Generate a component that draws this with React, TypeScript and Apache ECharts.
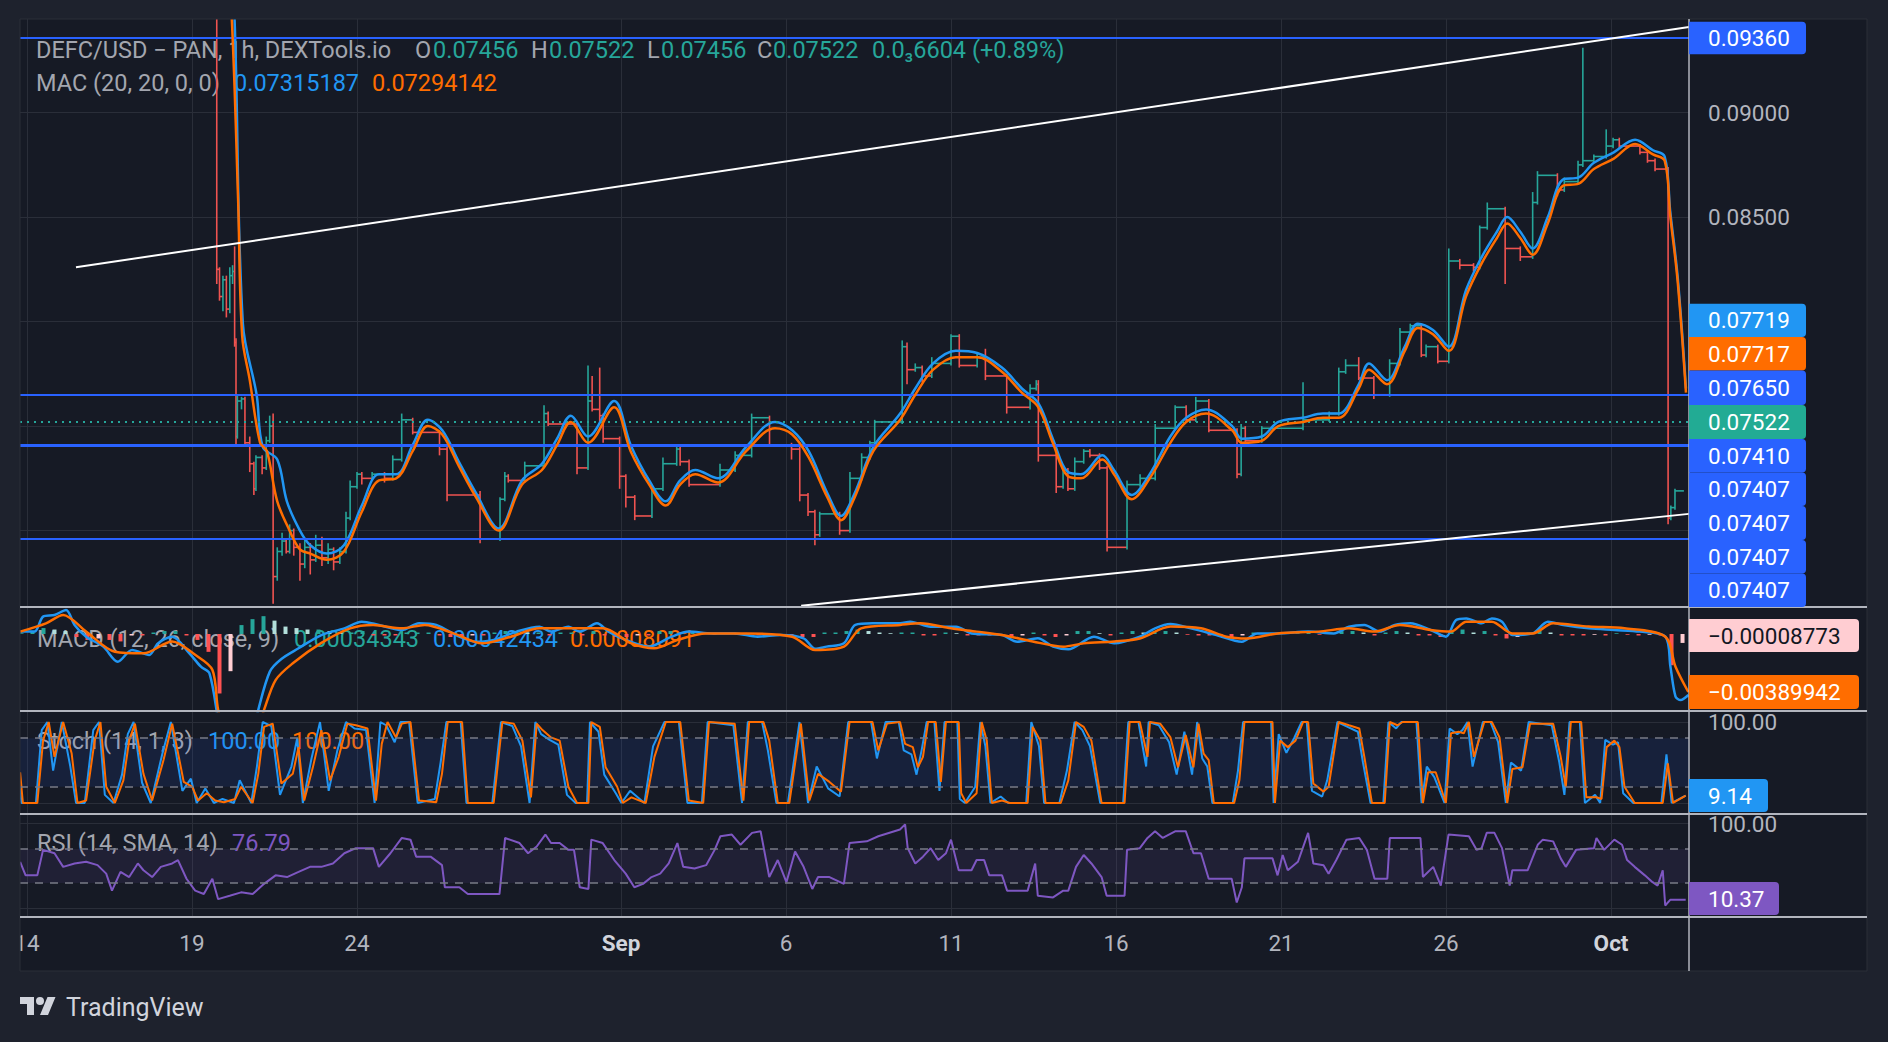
import React, { useEffect, useRef } from "react";
import * as echarts from "echarts";

// ---------- data ----------
// x values are hours since 14 Aug 00:00
const timeTickHours = [0, 120, 240, 432, 552, 672, 792, 912, 1032, 1152];
const timeTickLabels = ["14", "19", "24", "Sep", "6", "11", "16", "21", "26", "Oct"];
const monthLabels = ["Sep", "Oct"];
const xMin = -5.09;
const xMax = 1208.7;

const priceTicks = [0.07, 0.075, 0.08, 0.085, 0.09];
const priceLabelTicks = [0.085, 0.09];
const priceMin = 0.066344;
const priceMax = 0.09448;

// [hour, open, high, low, close]
const candles = [
  [-6, 0.105, 0.106, 0.104, 0.105],
  [138, 0.105, 0.106, 0.0818, 0.0825],
  [140, 0.0825, 0.0826, 0.081, 0.0812],
  [142.5, 0.0812, 0.0822, 0.0805, 0.082],
  [145, 0.082, 0.0822, 0.0802, 0.0806],
  [147.5, 0.0806, 0.0826, 0.0804, 0.0822],
  [149.5, 0.0822, 0.0827, 0.0818, 0.0824],
  [151, 0.0824, 0.0836, 0.0788, 0.079],
  [152, 0.079, 0.0792, 0.0741, 0.0745],
  [153, 0.0745, 0.0765, 0.0744, 0.0762],
  [156, 0.0762, 0.0764, 0.0758, 0.0763],
  [158.5, 0.0763, 0.0764, 0.074, 0.0742],
  [162, 0.0742, 0.0745, 0.0728, 0.0732],
  [165, 0.0732, 0.0733, 0.0717, 0.072],
  [166.5, 0.072, 0.0736, 0.0719, 0.0735],
  [171, 0.0735, 0.0736, 0.0727, 0.073],
  [174, 0.073, 0.0745, 0.0729, 0.0743],
  [176.5, 0.0743, 0.0755, 0.0742, 0.075],
  [179, 0.075, 0.0756, 0.0665, 0.0678],
  [182, 0.0678, 0.0692, 0.0676, 0.069],
  [185.5, 0.069, 0.0699, 0.0688, 0.0695],
  [188.5, 0.0695, 0.0696, 0.0689, 0.069],
  [191, 0.069, 0.0703, 0.0689, 0.07],
  [194, 0.07, 0.0701, 0.0688, 0.0692],
  [198.5, 0.0692, 0.0694, 0.0676, 0.0684],
  [202, 0.0684, 0.0696, 0.0682, 0.0692],
  [206, 0.0692, 0.0694, 0.0679, 0.0686],
  [210, 0.0686, 0.0698, 0.0685, 0.0693],
  [214.5, 0.0693, 0.0697, 0.0683, 0.0687],
  [219, 0.0687, 0.0694, 0.0684, 0.0691],
  [223, 0.0691, 0.0692, 0.0681, 0.0685],
  [227.5, 0.0685, 0.0692, 0.0684, 0.069],
  [232, 0.069, 0.0709, 0.0689, 0.0706],
  [235, 0.0706, 0.0724, 0.0705, 0.0721],
  [240, 0.0721, 0.0728, 0.072, 0.0727],
  [243.5, 0.0727, 0.0728, 0.0722, 0.0725],
  [251, 0.0725, 0.0728, 0.0724, 0.0727],
  [260, 0.0727, 0.0728, 0.0723, 0.0725],
  [266, 0.0725, 0.0736, 0.0724, 0.0734],
  [272.5, 0.0734, 0.0756, 0.0733, 0.0753],
  [280.5, 0.0753, 0.0754, 0.0746, 0.0747],
  [300, 0.0747, 0.0748, 0.0736, 0.0739],
  [305.5, 0.0739, 0.074, 0.0714, 0.0717],
  [329.5, 0.0717, 0.0719, 0.0694, 0.0696],
  [344, 0.0696, 0.0716, 0.0695, 0.0715],
  [347.5, 0.0715, 0.0728, 0.0714, 0.0726],
  [350, 0.0726, 0.0727, 0.0723, 0.0724],
  [362, 0.0724, 0.0733, 0.0723, 0.0731],
  [376, 0.0731, 0.076, 0.073, 0.0756],
  [379, 0.0756, 0.0757, 0.075, 0.0751],
  [400, 0.0751, 0.0752, 0.0727, 0.073],
  [408, 0.073, 0.0779, 0.0729, 0.0762],
  [411, 0.0762, 0.0774, 0.0757, 0.0758],
  [416.5, 0.0758, 0.0778, 0.0752, 0.0755],
  [419, 0.0755, 0.0756, 0.0742, 0.0744],
  [431, 0.0744, 0.0745, 0.072, 0.0726],
  [435.5, 0.0726, 0.0727, 0.0711, 0.0716],
  [442, 0.0716, 0.0717, 0.0705, 0.0707],
  [454.5, 0.0707, 0.0722, 0.0706, 0.072],
  [462.5, 0.072, 0.0735, 0.0719, 0.0732],
  [472.5, 0.0732, 0.074, 0.0731, 0.0739],
  [475, 0.0739, 0.074, 0.0731, 0.0733],
  [481.5, 0.0733, 0.0734, 0.0721, 0.0722],
  [504, 0.0722, 0.0732, 0.0721, 0.0729],
  [515, 0.0729, 0.0738, 0.0728, 0.0736],
  [527, 0.0736, 0.0756, 0.0735, 0.0754],
  [540, 0.0754, 0.0755, 0.074, 0.0741],
  [556, 0.0741, 0.0742, 0.0734, 0.0739],
  [562, 0.0739, 0.074, 0.0714, 0.0717],
  [568, 0.0717, 0.0718, 0.0707, 0.0709],
  [573, 0.0709, 0.071, 0.0693, 0.0698],
  [576.5, 0.0698, 0.0709, 0.0697, 0.0708],
  [591, 0.0708, 0.0709, 0.0698, 0.07],
  [598.5, 0.07, 0.0728, 0.0699, 0.0725],
  [607, 0.0725, 0.0737, 0.0724, 0.0735],
  [613, 0.0735, 0.0743, 0.0734, 0.0742],
  [616.5, 0.0742, 0.0753, 0.0741, 0.0752],
  [636.5, 0.0752, 0.0791, 0.0751, 0.0788],
  [640, 0.0788, 0.079, 0.077, 0.0777],
  [646, 0.0777, 0.078, 0.0776, 0.0778],
  [651, 0.0778, 0.0779, 0.0771, 0.0774],
  [658, 0.0774, 0.0783, 0.0773, 0.078],
  [672, 0.078, 0.0794, 0.0779, 0.0793],
  [678, 0.0793, 0.0794, 0.0778, 0.0779],
  [691, 0.0779, 0.0785, 0.0778, 0.0783],
  [697, 0.0783, 0.0787, 0.0772, 0.0774],
  [712.5, 0.0774, 0.0775, 0.0756, 0.0759],
  [729.5, 0.0759, 0.077, 0.0758, 0.0768],
  [734, 0.0768, 0.0772, 0.0767, 0.077],
  [735.5, 0.077, 0.0772, 0.0733, 0.0736],
  [748.5, 0.0736, 0.0737, 0.0718, 0.0721],
  [753.5, 0.0721, 0.0731, 0.072, 0.0729],
  [757, 0.0729, 0.073, 0.0719, 0.072],
  [762, 0.072, 0.0735, 0.0719, 0.0733],
  [768.5, 0.0733, 0.0739, 0.0732, 0.0738],
  [773, 0.0738, 0.0739, 0.0735, 0.0736],
  [780, 0.0736, 0.0737, 0.0729, 0.073],
  [785.5, 0.073, 0.0731, 0.069, 0.0692],
  [800, 0.0692, 0.0724, 0.0691, 0.0722],
  [809.5, 0.0722, 0.0727, 0.0721, 0.0725],
  [820.5, 0.0725, 0.0751, 0.0724, 0.0749],
  [835, 0.0749, 0.076, 0.0748, 0.0759],
  [843, 0.0759, 0.076, 0.0752, 0.0753],
  [850, 0.0753, 0.0764, 0.0752, 0.0762],
  [859.5, 0.0762, 0.0763, 0.0747, 0.0748],
  [880, 0.0748, 0.0749, 0.0725, 0.0727],
  [883, 0.0727, 0.0751, 0.0726, 0.0749],
  [886, 0.0749, 0.075, 0.0742, 0.0743],
  [898, 0.0743, 0.075, 0.0742, 0.0749],
  [928, 0.0749, 0.0771, 0.0748, 0.0753],
  [947, 0.0753, 0.0757, 0.0752, 0.0756],
  [954, 0.0756, 0.0778, 0.0755, 0.0776],
  [959, 0.0776, 0.0782, 0.0775, 0.0779],
  [968.5, 0.0779, 0.0783, 0.0772, 0.0773],
  [979.5, 0.0773, 0.0774, 0.0763, 0.0765],
  [991, 0.0765, 0.0782, 0.0764, 0.078],
  [998.5, 0.078, 0.0797, 0.0779, 0.0795],
  [1006, 0.0795, 0.0799, 0.0794, 0.0798],
  [1014, 0.0798, 0.0799, 0.0783, 0.0784],
  [1017.5, 0.0784, 0.0789, 0.0783, 0.0788],
  [1026, 0.0788, 0.0789, 0.078, 0.0781],
  [1034, 0.0781, 0.0835, 0.078, 0.0829],
  [1042, 0.0829, 0.083, 0.0825, 0.0827],
  [1052, 0.0827, 0.0828, 0.0824, 0.0826],
  [1056.5, 0.0826, 0.0846, 0.0825, 0.0845],
  [1062, 0.0845, 0.0857, 0.0844, 0.0854],
  [1075, 0.0854, 0.0855, 0.0818, 0.0835],
  [1086, 0.0835, 0.0836, 0.0829, 0.0831],
  [1095, 0.0831, 0.0862, 0.083, 0.0857],
  [1098.5, 0.0857, 0.0872, 0.0856, 0.087],
  [1113, 0.087, 0.0871, 0.086, 0.0863],
  [1118, 0.0863, 0.0869, 0.0862, 0.0867],
  [1128, 0.0867, 0.0877, 0.0866, 0.0875],
  [1131.5, 0.0875, 0.0931, 0.0874, 0.0877],
  [1139.5, 0.0877, 0.088, 0.0876, 0.0879],
  [1148.5, 0.0879, 0.0892, 0.0878, 0.0884],
  [1153.5, 0.0884, 0.0888, 0.0883, 0.0887],
  [1158, 0.0887, 0.0888, 0.0883, 0.0884],
  [1173, 0.0884, 0.0885, 0.088, 0.0881],
  [1178.5, 0.0881, 0.0882, 0.0876, 0.0877],
  [1184, 0.0877, 0.0878, 0.0872, 0.0873],
  [1193.5, 0.0873, 0.0874, 0.0703, 0.0706],
  [1195.5, 0.0706, 0.0712, 0.0705, 0.0711],
  [1198.5, 0.0711, 0.072, 0.071, 0.0719],
];
const candleEnd = 1205;

// MAC (20,20,0,0): upper (blue) and lower (orange)
const macUpper = [
  [-6, 0.106], [143, 0.1055], [151, 0.0944], [157, 0.0799], [167, 0.0765], [171.5, 0.074], [182, 0.0734],
  [189, 0.0714], [198.5, 0.07], [206, 0.0693], [218, 0.0689], [230.5, 0.0693], [243.5, 0.0712], [256, 0.0727],
  [268.5, 0.0727], [280.5, 0.0741], [291.5, 0.0753], [302, 0.0748], [314, 0.0733], [326.5, 0.0718], [343, 0.0701],
  [360, 0.0724], [374.5, 0.0732], [385.5, 0.0744], [395.5, 0.0755], [408, 0.0745], [427, 0.0762], [439, 0.0741],
  [452.5, 0.0724], [464.5, 0.0714], [475, 0.0724], [486, 0.0729], [502.5, 0.0725], [523, 0.074], [544, 0.0752],
  [556.5, 0.0748], [568.5, 0.0738], [582, 0.0718], [592, 0.0707], [602, 0.0718], [615.5, 0.074], [635, 0.0756],
  [646, 0.0768], [659, 0.078], [675.5, 0.0786], [691, 0.0785], [709, 0.0778], [723.5, 0.0768], [735.5, 0.0761],
  [746, 0.0744], [757, 0.0728], [766.5, 0.0727], [782, 0.0736], [790.5, 0.0729], [803.5, 0.0717], [816.5, 0.0727],
  [831.5, 0.0745], [843, 0.0754], [857.5, 0.0758], [876.5, 0.075], [883.5, 0.0744], [898, 0.0745], [910, 0.0752],
  [928, 0.0754], [942.5, 0.0756], [954, 0.0756], [968.5, 0.077], [976, 0.078], [989, 0.0772], [1002, 0.0788],
  [1011.5, 0.0799], [1022.5, 0.0796], [1034, 0.0788], [1046.5, 0.0815], [1058, 0.0831], [1069, 0.0843],
  [1076.5, 0.085], [1086, 0.0843], [1095, 0.0835], [1106, 0.085], [1117, 0.0868], [1128.5, 0.0869],
  [1139.5, 0.0876], [1154, 0.0881], [1169.5, 0.0887], [1182.5, 0.0882], [1191, 0.0879], [1195, 0.0853],
  [1200.5, 0.0821], [1206.5, 0.0768],
];
const macLower = [
  [-6, 0.105], [140, 0.1045], [149, 0.0944], [153.5, 0.0859], [156.5, 0.0793], [162, 0.0772], [169.5, 0.0742],
  [174.5, 0.0738], [182, 0.0714], [191, 0.07], [198.5, 0.0691], [206, 0.0689], [218, 0.0686], [230.5, 0.069],
  [243.5, 0.0709], [256, 0.0724], [268.5, 0.0725], [280.5, 0.0738], [291.5, 0.075], [302, 0.0746], [314, 0.0731],
  [326.5, 0.0716], [343, 0.07], [360, 0.0722], [374.5, 0.0729], [385.5, 0.0741], [395.5, 0.0752], [408, 0.0742],
  [427, 0.0759], [439, 0.0738], [452.5, 0.0722], [464.5, 0.0712], [475, 0.0722], [486, 0.0727], [502.5, 0.0723],
  [523, 0.0738], [544, 0.0749], [556.5, 0.0746], [568.5, 0.0735], [582, 0.0716], [592, 0.0705], [602, 0.0716],
  [615.5, 0.0738], [635, 0.0753], [646, 0.0765], [659, 0.0777], [675.5, 0.0783], [691, 0.0783], [709, 0.0776],
  [723.5, 0.0766], [735.5, 0.0759], [746, 0.0742], [757, 0.0726], [766.5, 0.0725], [782, 0.0734], [790.5, 0.0727],
  [803.5, 0.0715], [816.5, 0.0725], [831.5, 0.0742], [843, 0.0752], [857.5, 0.0756], [876.5, 0.0748],
  [883.5, 0.0742], [898, 0.0743], [910, 0.075], [928, 0.0752], [942.5, 0.0754], [954, 0.0754], [968.5, 0.0768],
  [976, 0.0777], [989, 0.077], [1002, 0.0786], [1011.5, 0.0797], [1022.5, 0.0794], [1034, 0.0786],
  [1046.5, 0.0812], [1058, 0.0828], [1069, 0.084], [1076.5, 0.0847], [1086, 0.084], [1095, 0.0832],
  [1106, 0.0847], [1117, 0.0865], [1128.5, 0.0866], [1139.5, 0.0873], [1154, 0.0878], [1169.5, 0.0885],
  [1182.5, 0.088], [1191, 0.0877], [1195, 0.0851], [1200.5, 0.0819], [1206.5, 0.0766],
];

const trendUpper = [[35.6, 0.0826], [1208.7, 0.0941]];
const trendLower = [[563, 0.0664], [1208.7, 0.0708]];
const levelLines = [0.0936, 0.0765, 0.0741, 0.0696];
const lastPrice = 0.07522;

// MACD (12, 26, close, 9)
const macdLine = [
  [-5, 0.00016], [5.4, 0.00016], [11.7, 0.00117], [20, 0.00128], [28.4, 0.00161], [34.6, 0.00061], [43, -0.00018],
  [55.5, -0.00085], [66, -0.00186], [76.4, -0.00108], [88.9, -0.00141], [95.2, -0.00063], [105.6, -0.00018],
  [118.1, -0.0013], [126.5, -0.0022], [132.7, -0.00265], [139, -0.0058], [146, -0.0095], [156, -0.0088],
  [163, -0.0072], [168.2, -0.0051], [176.6, -0.00253], [185, -0.00168], [197.5, -0.00096], [214.1, -0.00007],
  [230.8, 0.00038], [243.4, 0.00083], [255.9, 0.00061], [272.6, 0.00027], [285.1, 0.00072], [297.6, 0.00061],
  [314.4, -0.00018], [326.9, -0.00052], [339.4, -0.0004], [356.1, 0.00016], [372.8, 0.00049], [381.1, 0.00016],
  [393.7, 0.00049], [402, 0.00016], [414.5, 0.00072], [422.9, 0.00016], [435.4, -0.0004], [452.1, -0.00085],
  [468.8, -0.00018], [481.3, 0.00016], [498, 0.00004], [514.7, 0.00004], [531.4, -0.00018], [548.1, -0.00007],
  [564.8, -0.00029], [573.2, -0.00099], [581.5, -0.00085], [594.1, -0.00063], [602.4, 0.00061], [614.9, 0.00072],
  [635, 0.00072], [642.3, 0.00083], [657.2, 0.00049], [675.7, 0.00049], [686.9, 0.00004], [709.1, -0.00007],
  [720.2, -0.00052], [735.1, -0.00029], [746.2, -0.00085], [757.3, -0.00103], [775.9, -0.00018], [790.7, -0.00063],
  [809.3, -0.00018], [820.4, 0.00038], [831.6, 0.00067], [846.4, 0.00038], [865, -0.00007], [883.5, -0.00052],
  [894.6, 0.00004], [909.5, 0.00004], [931.7, 0.00016], [950.3, 0.00004], [961.4, 0.00049], [972.6, 0.00061],
  [983.7, 0.00016], [994.8, 0.00061], [1006, 0.00072], [1020.8, 0.00027], [1031.9, -0.00018], [1039.3, 0.00094],
  [1046.8, 0.00105], [1057.9, 0.00072], [1065.3, 0.00105], [1072.7, 0.00083], [1080.2, -0.00007], [1095, 0.00004],
  [1106.1, 0.00083], [1117.3, 0.00061], [1135.8, 0.00038], [1154.4, 0.00027], [1172.9, 0.00016],
  [1191.5, -0.00018], [1195.2, -0.0022], [1198.9, -0.00421], [1202.6, -0.00444], [1208.2, -0.0041],
];
const signalLine = [
  [-5, 0.00016], [13.8, 0.00072], [26.3, 0.00128], [43, 0.00016], [63.9, -0.00119], [84.7, -0.0013],
  [105.6, -0.0005], [122.3, -0.0014], [134.8, -0.0024], [139, -0.0051], [148, -0.0082], [160, -0.0082],
  [172.4, -0.0051], [180.8, -0.0031], [193.3, -0.00197], [214.1, -0.0006], [235, 0.00038], [251.7, 0.00061],
  [272.6, 0.00038], [289.3, 0.00061], [310.2, 0.00004], [331.1, -0.00063], [351.9, -0.00018], [372.8, 0.00038],
  [397.8, 0.00038], [418.7, 0.00038], [439.6, -0.00063], [456.3, -0.00096], [473, -0.0004], [493.9, 0.00004],
  [523.1, 0.00004], [556.5, -0.00018], [573.2, -0.00108], [594.1, -0.00085], [606.6, 0.00038], [635, 0.00061],
  [649.7, 0.00072], [672, 0.00038], [690.6, 0.00016], [709.1, -0.00007], [731.4, -0.0005], [753.6, -0.00085],
  [768.5, -0.00063], [790.7, -0.0005], [809.3, -0.0003], [831.6, 0.0005], [853.8, 0.00038], [872.4, -0.00018],
  [887.2, -0.0003], [909.5, 0.00004], [939.2, 0.00016], [961.4, 0.00038], [980, 0.00016], [998.5, 0.00061],
  [1020.8, 0.00027], [1035.6, 0.00016], [1046.8, 0.00083], [1065.3, 0.00083], [1080.2, 0.00004], [1095, 0.00004],
  [1109.9, 0.00072], [1135.8, 0.0005], [1161.8, 0.00038], [1191.5, -0.00018], [1198.9, -0.0022], [1208.2, -0.0039],
];
const histStart = -4;
const histStep = 8;
const histValues = [
  0.00005, 0.0002, 0.0004, 0.0003, 0.0002, -0.0002, -0.0004, -0.0003, -0.0004, -0.0005,
  -0.0001, -0.0001, 0.0001, 0.0002, 0.0002, -0.0001, -0.0004, -0.0012, -0.004, -0.0025,
  0.0006, 0.001, 0.0012, 0.0009, 0.0005, 0.0004, 0.0003, 0.0003, 0.0002, 0.0001,
  0.0001, 0.0002, -0.0001, -0.0001, -0.0001, 0.0001, 0.0001, 0.0001, -0.0001, -0.0002,
  -0.0002, -0.0001, -0.0001, 0.0001, 0.0002, 0.0002, 0.0001, 0.0001, -0.0001, 0.0001,
  0.0001, -0.0001, 0.0002, -0.0001, -0.0002, -0.0002, -0.0001, -0.0001, 0.0002, 0.0002,
  0.0001, 0.0001, 0.00005, -0.00005, 0.00005, -0.00005, -0.0001, -0.0001, 0.00005, -0.0001,
  -0.0001, -0.0002, -0.0002, 0.0001, 0.0001, 0.0002, 0.0003, 0.0002, 0.0001, 0.00005,
  0.0001, 0.0001, -0.0001, -0.0001, 0.0001, 0.00005, -0.0001, -0.0001, -0.0001, -0.00005,
  -0.0002, -0.0001, 0.0001, -0.0001, -0.0002, -0.0001, 0.0002, 0.0002, 0.00005, -0.0001,
  0.0001, 0.0002, 0.0001, 0.0002, 0.0002, 0.0001, -0.00005, -0.0001, -0.0001, -0.0002,
  -0.0002, -0.0001, 0.0001, 0.00005, 0.00005, 0.00005, 0.00005, 0.0001, -0.00005, 0.0001,
  0.0002, 0.0002, 0.0001, -0.0001, 0.0001, 0.0002, 0.0001, -0.0001, -0.0001, -0.0002,
  0.0002, 0.0003, 0.0001, 0.0002, -0.0001, -0.0003, -0.0002, 0.0001, 0.0002, 0.0001,
  -0.0001, -0.0001, -0.0001, -0.00005, -0.0001, 0.00005, -0.00005, -0.0001, -0.00005, -0.0001,
  -0.0021, -0.0006,
];

// Stoch (14, 1, 3): %K (blue) and %D (orange)
const stochK = [
  [-6, 30], [-4, 0], [6.5, 0], [10.7, 90], [14.8, 100], [19, 40], [25.3, 100], [31.5, 45], [35.7, 0], [42, 0],
  [48.2, 90], [52.4, 100], [56.6, 10], [62.9, 0], [69.1, 35], [73.3, 85], [77.5, 100], [83.7, 25], [90, 0],
  [98.3, 60], [104.6, 100], [113, 15], [119.2, 30], [123.4, 0], [129.7, 18], [135.9, 0], [142.2, 5], [150.5, 0],
  [154.7, 28], [163.1, 0], [167.2, 45], [171.4, 100], [177.7, 95], [184, 10], [192.3, 45], [196.5, 80],
  [200.6, 0], [206.9, 55], [213.1, 100], [219.4, 15], [225.7, 65], [232, 100], [238.2, 92], [246.6, 90],
  [252.8, 0], [257, 100], [261.2, 96], [267.4, 75], [271.6, 100], [277.9, 100], [284.1, 0], [296.6, 5],
  [300.8, 50], [305, 100], [315.4, 100], [319.6, 0], [338.4, 0], [344.7, 100], [353, 95], [359.3, 70],
  [365.5, 0], [369.7, 100], [373.9, 85], [380.1, 78], [386.4, 72], [392.7, 10], [399, 0], [407.3, 0],
  [409.4, 100], [415.6, 88], [419.8, 35], [428.2, 12], [432.3, 0], [438.6, 15], [449, 0], [455.3, 70],
  [463.6, 100], [474.1, 100], [480.3, 0], [490.8, 0], [495, 100], [513.7, 96], [520, 0], [524.2, 100],
  [534.6, 100], [538.8, 65], [545, 0], [553.4, 0], [561.8, 100], [568, 0], [574.3, 45], [582.6, 18], [591, 8],
  [597.2, 100], [613.9, 100], [618.1, 55], [624.4, 100], [634, 100], [637.6, 65], [643.2, 60], [646.9, 35],
  [650.6, 65], [654.3, 100], [659.9, 100], [663.6, 15], [667.3, 100], [676.6, 100], [678.4, 5], [682.1, 0],
  [689.6, 20], [693.3, 100], [697, 70], [700.7, 0], [708.1, 8], [713.7, 0], [726.7, 0], [730.4, 100], [736, 70],
  [739.7, 0], [750.8, 0], [756.3, 40], [761.9, 100], [767.5, 90], [773.1, 70], [780.5, 0], [797.2, 0],
  [800.9, 100], [808.3, 100], [813.9, 45], [815.7, 100], [823.1, 96], [830.6, 75], [836.1, 35], [841.7, 88],
  [847.3, 35], [851, 100], [854.7, 55], [858.4, 45], [862.1, 0], [876.9, 0], [880.7, 40], [884.4, 100],
  [904.8, 100], [906.6, 0], [910.3, 85], [915.9, 62], [921.5, 80], [927, 100], [930.7, 100], [934.5, 15],
  [941.9, 8], [945.6, 28], [953, 100], [960.4, 94], [967.9, 88], [971.6, 50], [977.1, 0], [986.4, 0],
  [990.1, 100], [995.7, 92], [999.4, 100], [1010.5, 100], [1014.2, 0], [1018, 45], [1023.5, 32], [1030.9, 0],
  [1034.6, 92], [1040.2, 85], [1043.9, 90], [1047.6, 100], [1051.3, 45], [1058.8, 100], [1064.3, 100],
  [1069.9, 75], [1075.5, 0], [1079.2, 50], [1086.6, 40], [1092.1, 100], [1108.9, 96], [1114.4, 50],
  [1118.1, 10], [1121.8, 100], [1129.3, 100], [1133, 0], [1140.4, 10], [1144.1, 0], [1147.8, 78],
  [1153.4, 72], [1157.1, 75], [1160.8, 12], [1168.2, 0], [1188.6, 0], [1192.3, 60], [1196.1, 0], [1206.3, 9.14],
];
const stochD = [
  [-5, 38], [-3, 0], [7.5, 0], [11.7, 77], [15.8, 100], [20, 57], [26.3, 100], [32.5, 61], [36.7, 0], [43, 3],
  [49.2, 77], [53.4, 100], [57.6, 20], [63.9, 0], [70.1, 28], [74.3, 77], [78.5, 98], [84.7, 36], [91, 3],
  [99.3, 53], [105.6, 98], [114, 26], [120.2, 20], [124.4, 3], [130.7, 12], [136.9, 3], [143.2, 1], [151.5, 5],
  [155.7, 20], [164.1, 0], [168.2, 36], [172.4, 94], [178.7, 98], [185, 24], [193.3, 36], [197.5, 69],
  [201.6, 3], [207.9, 44], [214.1, 90], [220.4, 28], [226.7, 57], [233, 98], [239.2, 96], [247.6, 92],
  [253.8, 3], [258, 73], [262.2, 100], [268.4, 81], [272.6, 98], [278.9, 100], [285.1, 3], [297.6, 1],
  [301.8, 36], [306, 100], [316.4, 100], [320.6, 0], [339.4, 0], [345.7, 100], [354, 98], [360.3, 77],
  [366.5, 7], [370.7, 98], [374.9, 90], [381.1, 81], [387.4, 77], [393.7, 20], [400, 0], [408.3, 0],
  [410.4, 100], [416.6, 94], [420.8, 44], [429.2, 20], [433.3, 0], [439.6, 7], [450, 0], [456.3, 57],
  [464.6, 100], [475.1, 100], [481.3, 3], [491.8, 0], [496, 100], [514.7, 98], [521, 3], [525.2, 100],
  [535.6, 100], [539.8, 77], [546, 0], [554.4, 0], [562.8, 98], [569, 3], [575.3, 36], [583.6, 26], [592, 14],
  [598.2, 100], [614.9, 100], [619.1, 65], [625.4, 98], [634.9, 100], [638.6, 73], [644.2, 69], [647.9, 44],
  [651.6, 57], [655.3, 100], [660.9, 100], [664.6, 26], [668.3, 100], [677.6, 100], [679.4, 12], [683.1, 0],
  [690.6, 12], [694.3, 100], [698, 77], [701.7, 0], [709.1, 3], [714.7, 0], [727.7, 0], [731.4, 94], [737, 77],
  [740.7, 0], [751.8, 0], [757.3, 28], [762.9, 100], [768.5, 94], [774.1, 77], [781.5, 0], [798.2, 0],
  [801.9, 100], [809.3, 100], [814.9, 57], [816.7, 100], [824.1, 98], [831.6, 81], [837.1, 44], [842.7, 84],
  [848.3, 44], [852, 98], [855.7, 61], [859.4, 53], [863.1, 0], [877.9, 0], [881.7, 28], [885.4, 100],
  [905.8, 100], [907.6, 0], [911.3, 77], [916.9, 69], [922.5, 77], [928, 100], [931.7, 100], [935.5, 24],
  [942.9, 14], [946.6, 20], [954, 100], [961.4, 96], [968.9, 92], [972.6, 57], [978.1, 0], [987.4, 0],
  [991.1, 100], [996.7, 96], [1000.4, 100], [1011.5, 100], [1015.2, 0], [1019, 38], [1024.5, 38], [1031.9, 0],
  [1035.6, 86], [1041.2, 88], [1044.9, 86], [1048.6, 100], [1052.3, 57], [1059.8, 100], [1065.3, 100],
  [1070.9, 81], [1076.5, 0], [1080.2, 42], [1087.6, 44], [1093.1, 98], [1109.9, 98], [1115.4, 57],
  [1119.1, 20], [1122.8, 100], [1130.3, 100], [1134, 7], [1141.4, 7], [1145.1, 5], [1148.8, 69], [1154.4, 77],
  [1158.1, 69], [1161.8, 20], [1169.2, 0], [1189.6, 0], [1193.3, 49], [1197.1, 0], [1206.3, 9],
];

// RSI (14, SMA, 14)
const rsiLine = [
  [-5, 55], [-1, 39], [7.5, 39], [11.7, 69], [20, 65], [26.3, 49], [34.6, 53], [43, 55], [51.3, 51], [57.6, 41],
  [61.8, 21], [68, 43], [74.3, 37], [80.6, 53], [84.7, 45], [91, 37], [97.3, 49], [105.6, 53], [109.8, 57],
  [116, 35], [122.3, 21], [128.6, 17], [134.8, 35], [139, 11], [147.4, 15], [155.7, 19], [164.1, 17],
  [172.4, 29], [180.8, 39], [189.1, 37], [197.5, 43], [205.8, 49], [214.1, 49], [222.5, 53], [230.8, 65],
  [239.2, 71], [251.7, 71], [255.9, 49], [264.3, 65], [272.6, 83], [278.9, 81], [283, 61], [293.5, 61],
  [301.8, 51], [303.9, 25], [314.4, 25], [320.6, 17], [343.6, 17], [347.7, 83], [358.2, 77], [364.4, 65],
  [370.7, 73], [377, 87], [381.1, 77], [387.4, 77], [393.7, 69], [397.8, 69], [402, 25], [408.3, 23],
  [410.4, 81], [418.7, 77], [427.1, 57], [435.4, 41], [441.7, 25], [448, 29], [454.2, 37], [460.5, 41],
  [466.7, 53], [473, 77], [477.2, 49], [485.5, 47], [493.9, 51], [500.1, 69], [504.3, 85], [512.6, 87],
  [518.9, 75], [527.3, 89], [533.5, 91], [539.8, 37], [546, 57], [552.3, 31], [558.6, 67], [564.8, 49],
  [571.1, 23], [575.3, 37], [583.6, 37], [594.1, 29], [598.2, 77], [610.8, 79], [619.1, 85], [634.9, 93],
  [638.6, 99], [640.5, 71], [646, 53], [651.6, 61], [657.2, 71], [662.7, 57], [668.3, 65], [672, 81],
  [677.6, 45], [686.9, 45], [690.6, 57], [696.1, 57], [699.8, 39], [709.1, 39], [712.8, 21], [727.7, 21],
  [733.2, 53], [735.1, 15], [746.2, 13], [753.6, 21], [757.3, 21], [762.9, 49], [768.5, 63], [774.1, 53],
  [781.5, 37], [785.2, 15], [798.2, 15], [800, 69], [809.3, 71], [814.9, 83], [820.4, 91], [826, 83],
  [835.3, 91], [842.7, 91], [848.3, 65], [853.8, 65], [859.4, 35], [876.1, 35], [879.8, 7], [883.5, 25],
  [885.4, 59], [905.8, 59], [909.5, 39], [913.2, 63], [916.9, 45], [924.3, 55], [931.7, 89], [935.5, 53],
  [942.9, 51], [946.6, 41], [952.2, 57], [959.6, 81], [968.9, 83], [974.4, 69], [980, 35], [989.3, 35],
  [991.1, 83], [1013.4, 83], [1015.2, 37], [1022.7, 49], [1028.2, 27], [1033.8, 87], [1048.6, 85],
  [1054.2, 69], [1057.9, 71], [1061.6, 89], [1067.2, 89], [1072.7, 71], [1078.3, 27], [1080.2, 45],
  [1091.3, 45], [1098.7, 75], [1102.4, 81], [1109.9, 79], [1115.4, 59], [1119.1, 49], [1126.6, 69],
  [1139.6, 71], [1141.4, 83], [1147, 69], [1154.4, 81], [1160, 75], [1163.7, 57], [1169.2, 49], [1176.6, 39],
  [1182.2, 31], [1185.9, 27], [1189.6, 45], [1191.4, 3.5], [1195.2, 10.37], [1206.3, 10.37],
];

// ---------- style ----------
const F = 'Roboto, "Noto Sans", sans-serif';
const UP = "#26a69a";
const DOWN = "#ef5350";
const BLUE = "#2196f3";
const ORANGE = "#ff6d00";
const LEVEL = "#2962ff";
const PURPLE = "#7e57c2";
const GRIDC = "#2a2e39";
const LABEL = "#b2b5be";
const SEP = "#b2b5be";
const BG = "#161a25";
const FRAME = "#1e222d";
const LEG = 23.5;
const AX = 22.5;

const LOGO_D =
  "M14 22H7V11H0V4h14v18zM28 22h-8l7.5-18h8L28 22zM16 8a4 4 0 1 0 8 0a4 4 0 1 0 -8 0z";
try {
  echarts.graphic.registerShape("tvlogo", echarts.graphic.extendPath(LOGO_D, {}));
} catch (e) {}

function buildOption() {
  const grids = [
    { left: 20, top: 19, width: 1669, height: 588 },
    { left: 20, top: 607, width: 1669, height: 104 },
    { left: 20, top: 711, width: 1669, height: 103 },
    { left: 20, top: 814, width: 1669, height: 103 },
  ];
  const xAxes = grids.map((_, i) => ({
    type: "value",
    gridIndex: i,
    min: xMin,
    max: xMax,
    axisLine: { show: false },
    axisTick: { show: false, customValues: timeTickHours },
    splitLine: { show: true, lineStyle: { color: GRIDC, width: 1 } },
    axisLabel:
      i === 3
        ? {
            show: true,
            customValues: timeTickHours,
            margin: 13,
            color: LABEL,
            fontSize: AX,
            fontFamily: F,
            lineHeight: 26,
            formatter: (v: number) => {
              const idx = timeTickHours.indexOf(Math.round(v));
              const s = idx >= 0 ? timeTickLabels[idx] : "";
              return monthLabels.includes(s) ? "{m|" + s + "}" : s;
            },
            rich: { m: { fontWeight: "bold", color: "#d1d4dc", fontSize: AX, fontFamily: F } },
          }
        : { show: false },
  }));
  const lbl = (vals: number[], dec: number) => ({
    show: true,
    customValues: vals,
    formatter: (v: number) => v.toFixed(dec),
    color: LABEL,
    fontSize: AX,
    fontFamily: F,
    margin: 19,
  });
  const yAxes = [
    {
      type: "value", gridIndex: 0, position: "right", min: priceMin, max: priceMax,
      axisLine: { show: false }, axisTick: { show: false, customValues: priceTicks },
      splitLine: { show: true, lineStyle: { color: GRIDC, width: 1 } },
      axisLabel: lbl(priceLabelTicks, 5),
    },
    {
      type: "value", gridIndex: 1, position: "right", min: -0.005178, max: 0.001816,
      axisLine: { show: false }, axisTick: { show: false }, splitLine: { show: false }, axisLabel: { show: false },
    },
    {
      type: "value", gridIndex: 2, position: "right", min: -13.6, max: 113.6,
      axisLine: { show: false }, axisTick: { show: false, customValues: [0, 100] },
      splitLine: { show: true, lineStyle: { color: GRIDC, width: 1 } },
      axisLabel: lbl([100], 2),
    },
    {
      type: "value", gridIndex: 3, position: "right", min: -10, max: 111.2,
      axisLine: { show: false }, axisTick: { show: false, customValues: [0, 100] },
      splitLine: { show: true, lineStyle: { color: GRIDC, width: 1 } },
      axisLabel: lbl([100], 2),
    },
  ];

  const candleData = candles.map((c, i) => [
    c[0], c[1], c[2], c[3], c[4], i < candles.length - 1 ? candles[i + 1][0] : candleEnd,
  ]);

  let prev = 0;
  const histData = histValues.map((v, i) => {
    let color;
    if (v >= 0) color = v >= prev ? "#26a69a" : "#b2dfdb";
    else color = v <= prev ? "#ff5252" : "#ffcdd2";
    prev = v;
    return { value: [histStart + i * histStep, v], itemStyle: { color } };
  });

  const line = (data: number[][], color: string, xi: number, width: number, smooth: number | boolean, extra = {}) => ({
    type: "line",
    xAxisIndex: xi,
    yAxisIndex: xi,
    data,
    showSymbol: false,
    symbol: "none",
    smooth,
    lineStyle: { color, width },
    clip: true,
    silent: true,
    ...extra,
  });

  const series: any[] = [
    {
      type: "custom",
      xAxisIndex: 0,
      yAxisIndex: 0,
      data: candleData,
      clip: true,
      silent: true,
      z: 3,
      encode: { x: [0, 5], y: [1, 2, 3, 4] },
      renderItem: (params: any, api: any) => {
        const t = api.value(0), o = api.value(1), hi = api.value(2), lo = api.value(3), c = api.value(4), t2 = api.value(5);
        const a = api.coord([t, hi]);
        const b = api.coord([t, lo]);
        const p = api.coord([t, c]);
        const q = api.coord([t2, c]);
        const col = c >= o ? UP : DOWN;
        return {
          type: "group",
          children: [
            { type: "line", shape: { x1: a[0], y1: a[1], x2: b[0], y2: b[1] }, style: { stroke: col, lineWidth: 1.6 } },
            { type: "line", shape: { x1: p[0], y1: p[1], x2: q[0], y2: q[1] }, style: { stroke: col, lineWidth: 1.6 } },
          ],
        };
      },
    },
    line(macUpper, BLUE, 0, 2.5, 0.35, { z: 4 }),
    line(macLower, ORANGE, 0, 2.5, 0.35, { z: 5 }),
    line(trendUpper, "#ffffff", 0, 2, false, { z: 6 }),
    line(trendLower, "#ffffff", 0, 2, false, {
      z: 6,
      markLine: {
        silent: true,
        precision: 6,
        symbol: ["none", "none"],
        label: { show: false },
        data: [
          ...levelLines.map((v, i) => ({ yAxis: v, lineStyle: { color: LEVEL, width: i === 2 ? 3 : 2, type: "solid" } })),
          { yAxis: lastPrice, lineStyle: { color: UP, width: 2, type: [2, 5] } },
        ],
      },
    }),
    {
      type: "bar",
      xAxisIndex: 1,
      yAxisIndex: 1,
      data: histData,
      barWidth: 4,
      silent: true,
      z: 2,
    },
    line(macdLine, BLUE, 1, 2.5, 0.3, { z: 3 }),
    line(signalLine, ORANGE, 1, 2.5, 0.3, { z: 4 }),
    line(stochK, BLUE, 2, 2, false, {
      z: 3,
      markArea: { silent: true, itemStyle: { color: "rgba(41,98,255,0.10)" }, data: [[{ yAxis: 20 }, { yAxis: 80 }]] },
    }),
    line(stochD, ORANGE, 2, 2, false, {
      z: 4,
      markLine: {
        silent: true, symbol: ["none", "none"], label: { show: false },
        lineStyle: { color: "#787b86", width: 1.5, type: [8, 7] },
        data: [{ yAxis: 80 }, { yAxis: 20 }],
      },
    }),
    line(rsiLine, PURPLE, 3, 2, false, {
      z: 4,
      markArea: { silent: true, itemStyle: { color: "rgba(126,87,194,0.10)" }, data: [[{ yAxis: 30 }, { yAxis: 70 }]] },
      markLine: {
        silent: true, symbol: ["none", "none"], label: { show: false },
        lineStyle: { color: "#787b86", width: 1.5, type: [8, 7] },
        data: [{ yAxis: 70 }, { yAxis: 30 }],
      },
    }),
  ];

  const txt = (x: number, y: number, text: string, fill: string, size = LEG, extra: any = {}) => ({
    type: "text",
    x,
    y,
    z: 1,
    silent: true,
    style: { text, fill, fontSize: size, fontFamily: F, verticalAlign: "middle", align: "left", ...extra },
  });
  const G = "#a3a6af";
  const legends = [
    txt(36, 50, "DEFC/USD − PAN, 1h, DEXTools.io", G),
    txt(415, 50, "O", G), txt(433, 50, "0.07456", UP),
    txt(531, 50, "H", G), txt(549, 50, "0.07522", UP),
    txt(647, 50, "L", G), txt(661, 50, "0.07456", UP),
    txt(757, 50, "C", G), txt(773, 50, "0.07522", UP),
    txt(872, 50, "0.0₃6604 (+0.89%)", UP),
    txt(36, 83, "MAC (20, 20, 0, 0)", G), txt(234, 83, "0.07315187", BLUE), txt(372, 83, "0.07294142", ORANGE),
    txt(37, 639, "MACD (12, 26, close, 9)", G), txt(294, 639, "0.00034343", UP),
    txt(433, 639, "0.00042434", BLUE), txt(570, 639, "0.00008091", ORANGE),
    txt(37, 741, "Stoch (14, 1, 3)", G), txt(208, 741, "100.00", BLUE), txt(292, 741, "100.00", ORANGE),
    txt(37, 843, "RSI (14, SMA, 14)", G), txt(232, 843, "76.79", PURPLE),
  ];

  const tag = (y: number, h: number, w: number, text: string, bg: string, fg = "#ffffff") => ({
    type: "group",
    z: 100,
    silent: true,
    children: [
      { type: "rect", z: 100, shape: { x: 1689, y, width: w, height: h, r: [0, 4, 4, 0] }, style: { fill: bg } },
      {
        type: "text", z: 101, x: 1708, y: y + h / 2,
        style: { text, fill: fg, fontSize: AX, fontFamily: F, verticalAlign: "middle", align: "left" },
      },
    ],
  });
  const tags = [
    tag(21.7, 32.5, 117, "0.09360", LEVEL),
    tag(303.7, 33.3, 117, "0.07719", BLUE),
    tag(337, 33.5, 117, "0.07717", ORANGE),
    tag(370.5, 34.5, 117, "0.07650", LEVEL),
    tag(405, 34, 117, "0.07522", "#22ab94"),
    tag(439, 33.5, 117, "0.07410", LEVEL),
    tag(472.5, 33.5, 117, "0.07407", LEVEL),
    tag(506, 34, 117, "0.07407", LEVEL),
    tag(540, 33.5, 117, "0.07407", LEVEL),
    tag(573.5, 33.5, 117, "0.07407", LEVEL),
    tag(619, 33, 170, "−0.00008773", "#ffcdd2", "#131722"),
    tag(675, 34, 170, "−0.00389942", ORANGE),
    tag(779, 33, 79, "9.14", BLUE),
    tag(882, 33, 90, "10.37", PURPLE),
  ];

  const hline = (y: number) => ({
    type: "line", z: 90, silent: true,
    shape: { x1: 20, y1: y, x2: 1867, y2: y },
    style: { stroke: SEP, lineWidth: 2 },
  });

  const frame = [
    { type: "rect", z: 80, silent: true, shape: { x: 0, y: 0, width: 1888, height: 19 }, style: { fill: FRAME } },
    { type: "rect", z: 80, silent: true, shape: { x: 0, y: 971, width: 1888, height: 71 }, style: { fill: FRAME } },
    { type: "rect", z: 80, silent: true, shape: { x: 0, y: 0, width: 20, height: 1042 }, style: { fill: FRAME } },
    { type: "rect", z: 80, silent: true, shape: { x: 1867, y: 0, width: 21, height: 1042 }, style: { fill: FRAME } },
    {
      type: "rect", z: 81, silent: true, shape: { x: 20, y: 19, width: 1847, height: 952 },
      style: { fill: "none", stroke: GRIDC, lineWidth: 1 },
    },
    hline(607), hline(711), hline(814), hline(917),
    {
      type: "line", z: 90, silent: true,
      shape: { x1: 1689, y1: 19, x2: 1689, y2: 971 },
      style: { stroke: SEP, lineWidth: 1.5 },
    },
    { type: "tvlogo", z: 85, silent: true, x: 20, y: 993, scaleX: 1, scaleY: 1, style: { fill: "#d1d4dc" } },
    {
      type: "text", z: 85, silent: true, x: 66, y: 1007,
      style: { text: "TradingView", fill: "#d1d4dc", fontSize: 25, fontFamily: F, verticalAlign: "middle", align: "left" },
    },
  ];

  return {
    animation: false,
    backgroundColor: BG,
    grid: grids,
    xAxis: xAxes,
    yAxis: yAxes,
    series,
    graphic: [...legends, ...frame, ...tags],
  };
}

export default function App() {
  const ref = useRef<HTMLDivElement>(null);
  useEffect(() => {
    document.body.style.margin = "0";
    const chart = echarts.init(ref.current as HTMLDivElement, null, { renderer: "svg" });
    chart.setOption(buildOption() as any);
    return () => chart.dispose();
  }, []);
  return <div ref={ref} style={{ width: 1888, height: 1042, background: FRAME }} />;
}
